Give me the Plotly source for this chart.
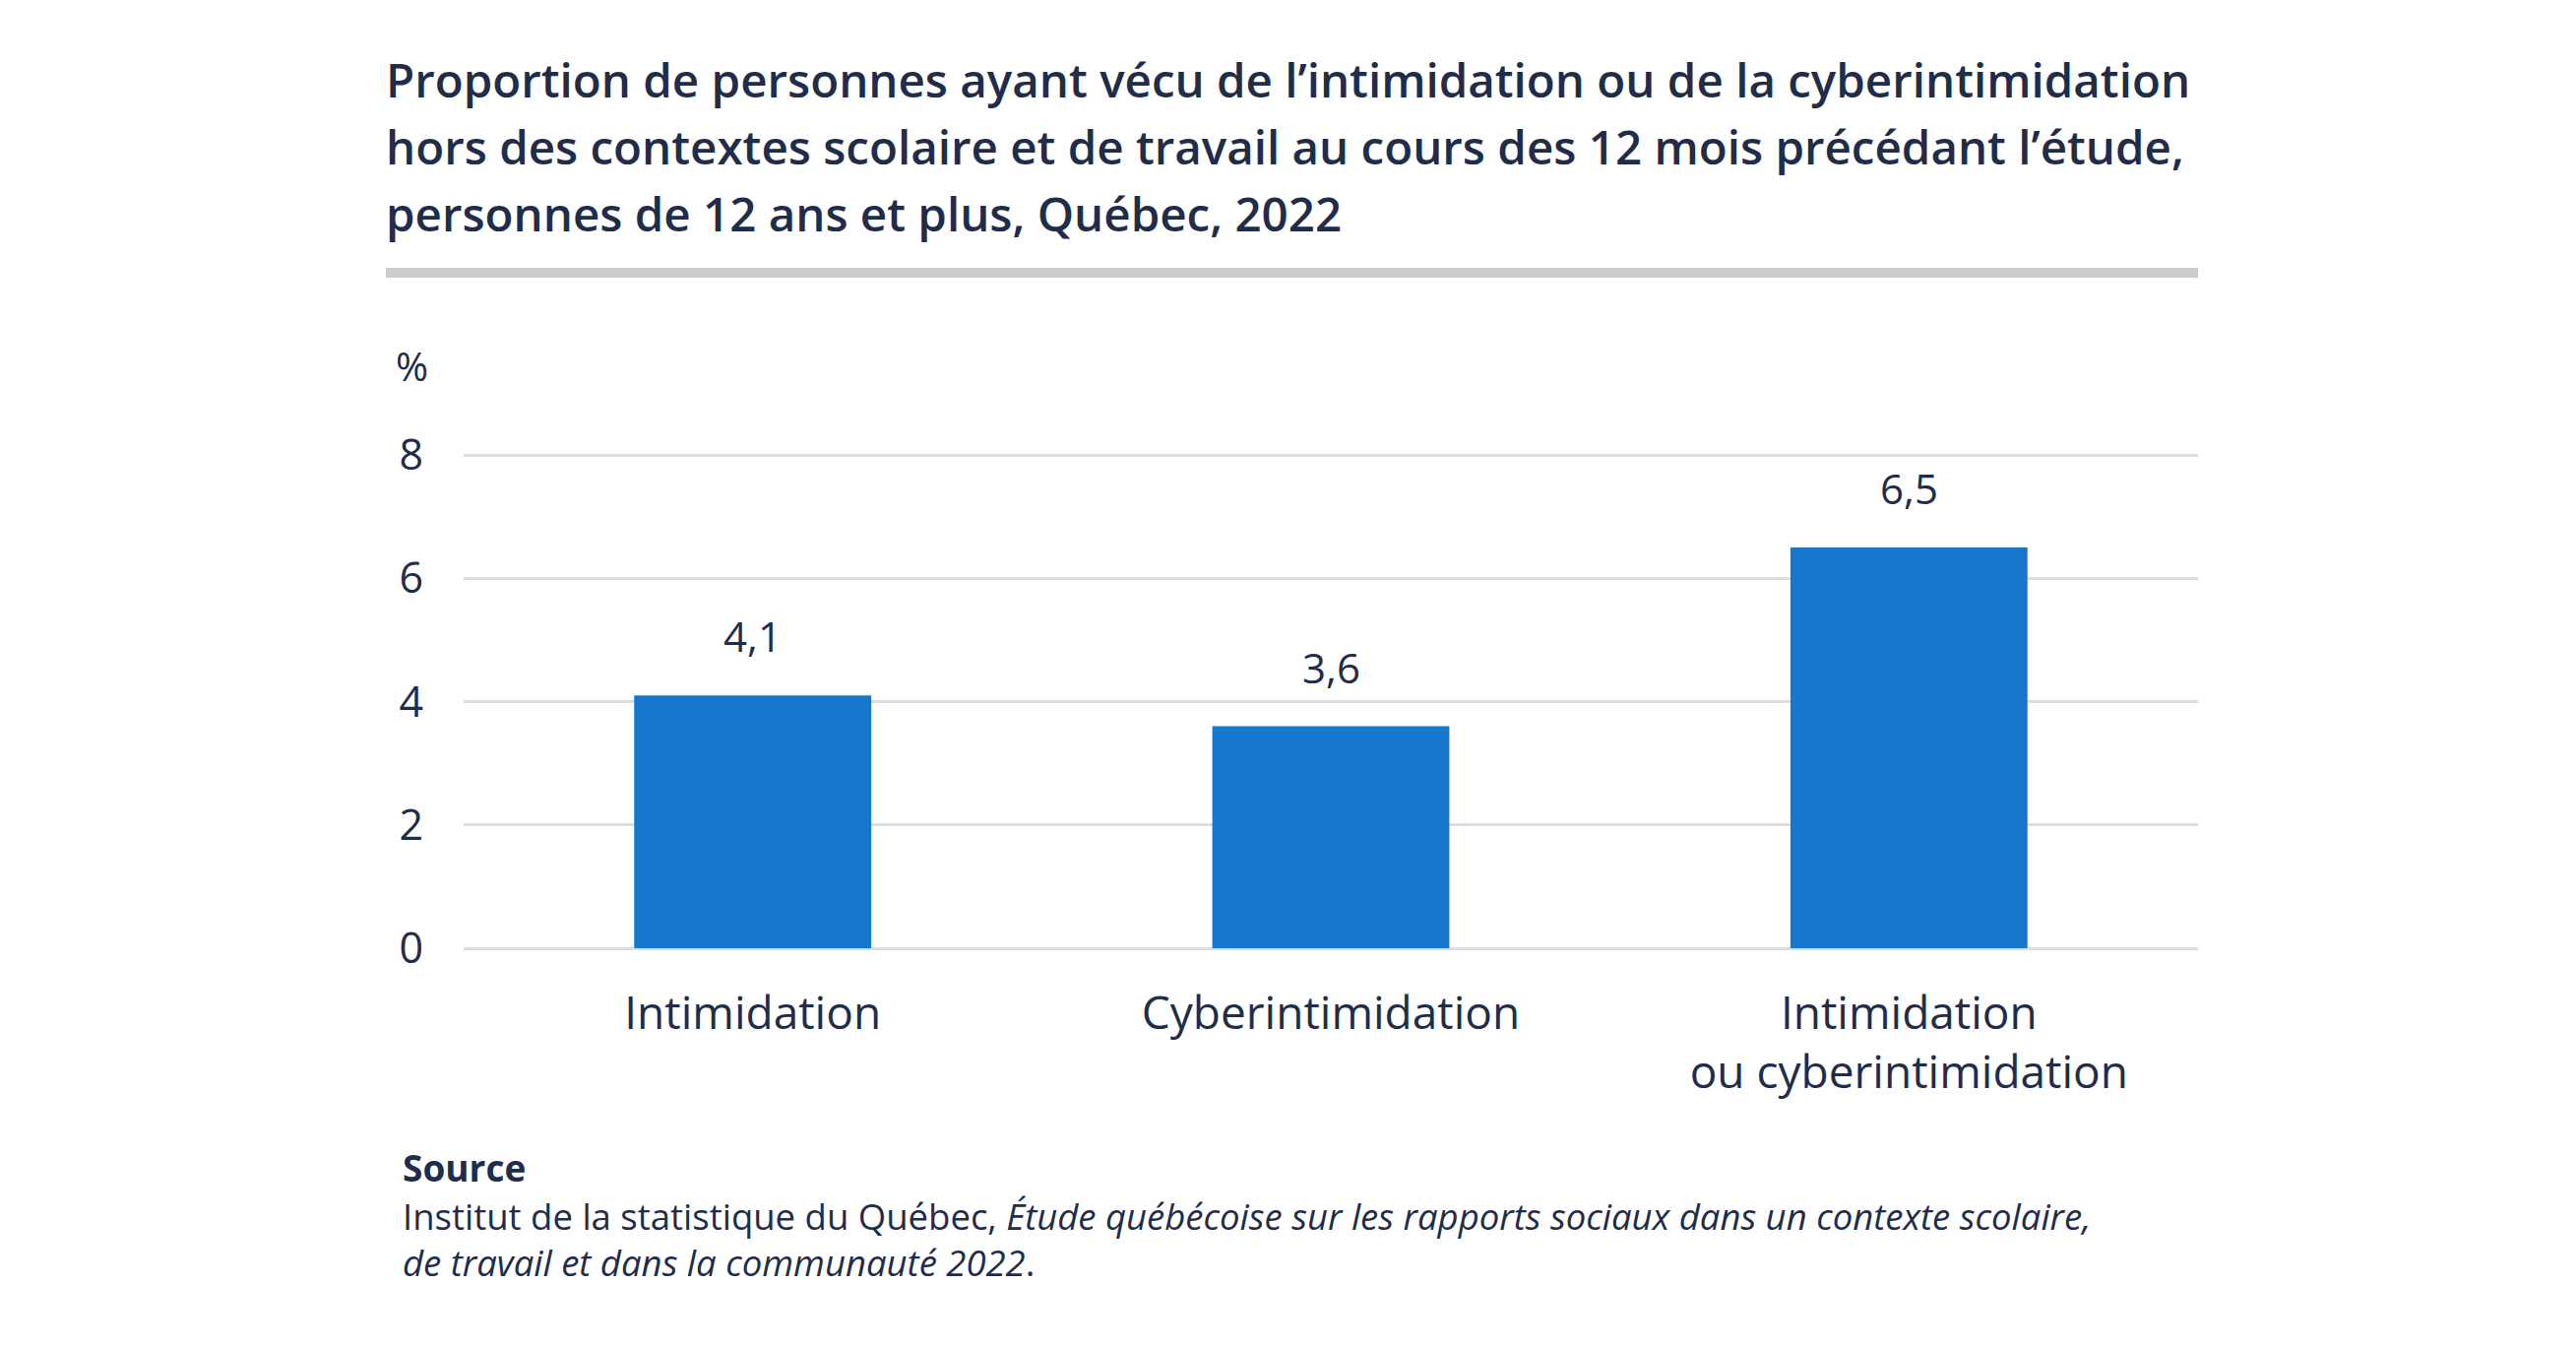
import plotly.graph_objects as go

categories = ["Intimidation", "Cyberintimidation", "Intimidation<br>ou cyberintimidation"]
values = [4.1, 3.6, 6.5]
value_labels = ["4,1", "3,6", "6,5"]
y_ticks = [0, 2, 4, 6, 8]

title_lines = [
    "Proportion de personnes ayant vécu de l’intimidation ou de la cyberintimidation",
    "hors des contextes scolaire et de travail au cours des 12 mois précédant l’étude,",
    "personnes de 12 ans et plus, Québec, 2022",
]
source_text = ("Institut de la statistique du Québec, <i>Étude québécoise sur les rapports sociaux "
               "dans un contexte scolaire,</i><br><i>de travail et dans la communauté 2022</i>.")

TXT = "#1f2d4a"
BAR = "#1777cc"
GRID = "#dcdde1"
FONT = "Open Sans"

W, H = 2617, 1370
L, R, T, B = 471, 384, 459, 407
PW, PH = W - L - R, H - T - B


def px(x):
    return (x - L) / PW


def py(y):
    return 1 - (y - T) / PH


fig = go.Figure()
fig.add_trace(go.Bar(x=categories, y=values, marker=dict(color=BAR, line=dict(width=0)),
                     hoverinfo="skip"))

for c, v, t in zip(categories, values, value_labels):
    fig.add_annotation(x=c, y=v, text=t, showarrow=False, yanchor="bottom", yshift=30,
                       font=dict(family=FONT, size=42, color=TXT))

for i, line in enumerate(title_lines):
    fig.add_annotation(xref="paper", yref="paper", x=px(390), y=py(80 + i * 68.5),
                       xanchor="left", yanchor="middle", align="left", showarrow=False,
                       text=line, font=dict(family=FONT, size=47.5, color=TXT, weight=600))

# separator bar under title
fig.add_shape(type="rect", xref="paper", yref="paper",
              x0=px(392), x1=px(2233), y0=py(282), y1=py(272),
              fillcolor="#cccccc", line=dict(width=0))

fig.add_annotation(xref="paper", yref="paper", x=px(400), y=py(371),
                   xanchor="left", yanchor="middle", showarrow=False, text="%",
                   font=dict(family=FONT, size=40, color=TXT))

fig.add_annotation(xref="paper", yref="paper", x=px(407), y=py(1185),
                   xanchor="left", yanchor="middle", showarrow=False, text="Source",
                   font=dict(family=FONT, size=37, color=TXT, weight=700))
fig.add_annotation(xref="paper", yref="paper", x=px(407), y=py(1258),
                   xanchor="left", yanchor="middle", align="left", showarrow=False,
                   text=source_text, font=dict(family=FONT, size=36.5, color=TXT))

fig.update_layout(
    width=W, height=H,
    margin=dict(l=L, r=R, t=T, b=B, pad=0),
    paper_bgcolor="white", plot_bgcolor="white",
    showlegend=False, bargap=0.59,
    font=dict(family=FONT, color=TXT),
)
fig.update_xaxes(showgrid=False, showline=False, zeroline=False, ticks="",
                 tickfont=dict(family=FONT, size=46, color=TXT), ticklabelstandoff=35)
fig.update_yaxes(range=[0, 8.05], tickvals=y_ticks, showgrid=True, gridcolor=GRID, gridwidth=3,
                 zeroline=True, zerolinecolor=GRID, zerolinewidth=3, showline=False, ticks="",
                 tickfont=dict(family=FONT, size=43, color=TXT), ticklabelstandoff=40)

fig.write_html("out.html", config={"displayModeBar": False})
